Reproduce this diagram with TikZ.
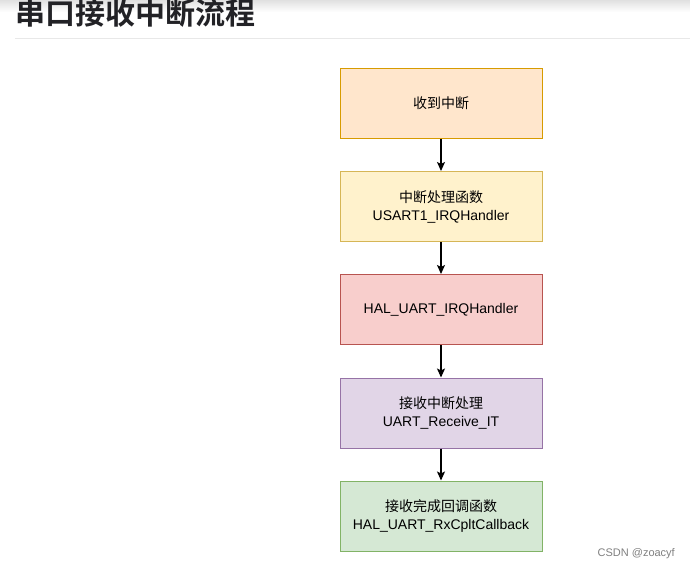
\documentclass[tikz,border=0pt]{standalone}
\usepackage{fontspec}
\setmainfont{Liberation Sans}
\newfontfamily\cjk{Noto Sans CJK SC}
\newfontfamily\cjkb{Noto Sans CJK SC Bold}
\usetikzlibrary{arrows.meta}
\definecolor{orF}{HTML}{FFE6CC}\definecolor{orD}{HTML}{D79B00}
\definecolor{yeF}{HTML}{FFF2CC}\definecolor{yeD}{HTML}{D6B656}
\definecolor{reF}{HTML}{F8CECC}\definecolor{reD}{HTML}{B85450}
\definecolor{puF}{HTML}{E1D5E7}\definecolor{puD}{HTML}{9673A6}
\definecolor{grF}{HTML}{D5E8D4}\definecolor{grD}{HTML}{82B366}
\definecolor{titlec}{HTML}{222226}
\begin{document}
\begin{tikzpicture}[x=1pt,y=-1pt,
  flowbox/.style={draw, line width=1pt, minimum width=202pt, minimum height=70pt,
    align=center, inner sep=0pt, font=\fontsize{14}{18}\selectfont},
  flowarrow/.style={line width=1.2pt, -{Stealth[length=9pt,width=8pt,inset=2pt]}}]
\useasboundingbox (0,0) rectangle (690,568);
\fill[white] (0,0) rectangle (690,568);
\shade[top color=black!12, bottom color=white] (0,0) rectangle (690,12);
\node[anchor=base west, inner sep=0pt, text=titlec, font=\cjkb\fontsize{30}{30}\selectfont] (title) at (15,24) {串口接收中断流程};
\draw[line width=1.5pt, color=black!9] (15,38.5) -- (690,38.5);
\node[flowbox, fill=orF, draw=orD] (n1) at (441,103) {\cjk 收到中断};
\node[flowbox, fill=yeF, draw=yeD] (n2) at (441,206.5) {{\cjk 中断处理函数}\\USART1\_IRQHandler};
\node[flowbox, fill=reF, draw=reD] (n3) at (441,309.5) {HAL\_UART\_IRQHandler};
\node[flowbox, fill=puF, draw=puD] (n4) at (441,413) {{\cjk 接收中断处理}\\UART\_Receive\_IT};
\node[flowbox, fill=grF, draw=grD] (n5) at (441,516) {{\cjk 接收完成回调函数}\\HAL\_UART\_RxCpltCallback};
\draw[flowarrow] (n1) -- (n2);
\draw[flowarrow] (n2) -- (n3);
\draw[flowarrow] (n3) -- (n4);
\draw[flowarrow] (n4) -- (n5);
\node[anchor=base east, inner sep=0pt, text=black!50, font=\fontsize{11}{11}\selectfont] (wm) at (675,556) {CSDN @zoacyf};
\end{tikzpicture}
\end{document}
